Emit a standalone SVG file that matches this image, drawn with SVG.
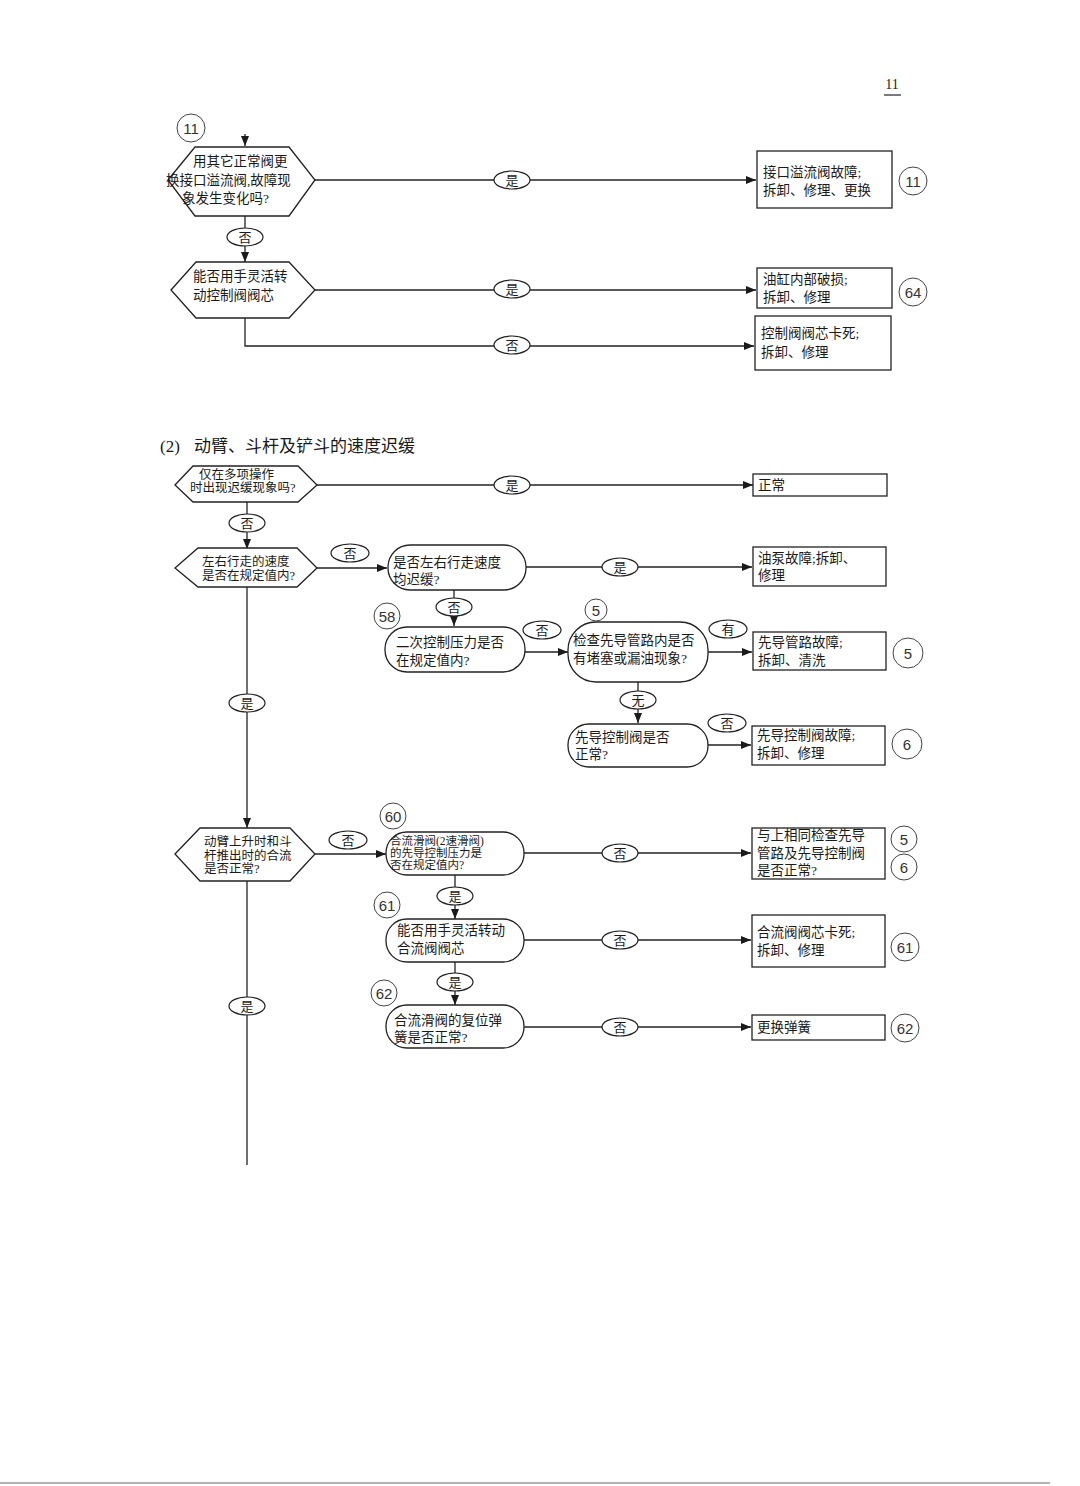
<svg xmlns="http://www.w3.org/2000/svg" width="1080" height="1486" viewBox="0 0 1080 1486">
<style>
.bg{fill:#ffffff}
.shape{fill:#ffffff;stroke:#222;stroke-width:1.3}
.conn{fill:none;stroke:#222;stroke-width:1.3}
.lbl{fill:#ffffff;stroke:#222;stroke-width:1.2}
.t{font-family:"Liberation Serif","Noto Sans CJK SC",serif;font-size:13.5px;fill:#1a1a1a}
.ts{font-family:"Liberation Serif","Noto Sans CJK SC",serif;font-size:12.5px;fill:#1a1a1a}
.tx{font-family:"Liberation Serif","Noto Sans CJK SC",serif;font-size:11.5px;fill:#1a1a1a}
.lt{font-family:"Liberation Serif","Noto Sans CJK SC",serif;font-size:13px;fill:#1a1a1a;text-anchor:middle}
.hc{fill:none;stroke:#444;stroke-width:1}
.ht{font-family:"Liberation Sans",sans-serif;font-size:15px;fill:#333;text-anchor:middle}
.title{font-family:"Liberation Serif","Noto Sans CJK SC",serif;font-size:17px;fill:#1a1a1a}
</style>
<defs>
<marker id="ah" markerWidth="10" markerHeight="8" refX="10" refY="4" orient="auto" markerUnits="userSpaceOnUse">
<path d="M0,0 L10,4 L0,8 z" fill="#1a1a1a"/>
</marker>
</defs>
<rect class="bg" x="0" y="0" width="1080" height="1486"/>

<!-- page number -->
<g id="page-number">
<text x="892" y="89" style="font-family:'Liberation Serif',serif;font-size:14px;fill:#222;text-anchor:middle">11</text>
<line x1="884" y1="95" x2="901" y2="95" stroke="#222" stroke-width="1.2"/>
</g>

<!-- section title -->
<g id="title2">
<text class="title" x="160" y="452">(2)</text>
<text class="title" x="194" y="452">动臂、斗杆及铲斗的速度迟缓</text>
</g>

<!-- connectors -->
<g id="connectors">
<line class="conn" x1="245" y1="134" x2="245" y2="146" marker-end="url(#ah)"/>
<line class="conn" x1="315" y1="180" x2="756" y2="180" marker-end="url(#ah)"/>
<line class="conn" x1="245" y1="216" x2="245" y2="262" marker-end="url(#ah)"/>
<line class="conn" x1="315" y1="290" x2="756" y2="290" marker-end="url(#ah)"/>
<polyline class="conn" points="245,318 245,346 754,346" marker-end="url(#ah)"/>

<line class="conn" x1="317" y1="485" x2="753" y2="485" marker-end="url(#ah)"/>
<line class="conn" x1="247" y1="502" x2="247" y2="549" marker-end="url(#ah)"/>
<line class="conn" x1="317" y1="568" x2="387" y2="568" marker-end="url(#ah)"/>
<line class="conn" x1="526" y1="567" x2="752" y2="567" marker-end="url(#ah)"/>
<line class="conn" x1="454" y1="590" x2="454" y2="626" marker-end="url(#ah)"/>
<line class="conn" x1="525" y1="652" x2="568" y2="652" marker-end="url(#ah)"/>
<line class="conn" x1="708" y1="652" x2="752" y2="652" marker-end="url(#ah)"/>
<line class="conn" x1="638" y1="682" x2="638" y2="723" marker-end="url(#ah)"/>
<line class="conn" x1="708" y1="745" x2="751" y2="745" marker-end="url(#ah)"/>
<line class="conn" x1="247" y1="587" x2="247" y2="828" marker-end="url(#ah)"/>
<line class="conn" x1="315" y1="854" x2="386" y2="854" marker-end="url(#ah)"/>
<line class="conn" x1="524" y1="853" x2="751" y2="853" marker-end="url(#ah)"/>
<line class="conn" x1="455" y1="875" x2="455" y2="919" marker-end="url(#ah)"/>
<line class="conn" x1="524" y1="940" x2="751" y2="940" marker-end="url(#ah)"/>
<line class="conn" x1="455" y1="962" x2="455" y2="1005" marker-end="url(#ah)"/>
<line class="conn" x1="524" y1="1027" x2="751" y2="1027" marker-end="url(#ah)"/>
<line class="conn" x1="247" y1="881" x2="247" y2="1165"/>

<g id="lbl-yes-1"><ellipse class="lbl" cx="512" cy="180" rx="18" ry="9"/><text class="lt" x="512" y="185">是</text></g>
<g id="lbl-no-1"><ellipse class="lbl" cx="245" cy="237" rx="18" ry="9"/><text class="lt" x="245" y="242">否</text></g>
<g id="lbl-yes-2"><ellipse class="lbl" cx="512" cy="289" rx="18" ry="9"/><text class="lt" x="512" y="294">是</text></g>
<g id="lbl-no-2"><ellipse class="lbl" cx="512" cy="345" rx="18" ry="9"/><text class="lt" x="512" y="350">否</text></g>
<g id="lbl-yes-3"><ellipse class="lbl" cx="512" cy="485" rx="18" ry="9"/><text class="lt" x="512" y="490">是</text></g>
<g id="lbl-no-3"><ellipse class="lbl" cx="247" cy="523" rx="18" ry="9"/><text class="lt" x="247" y="528">否</text></g>
<g id="lbl-no-4"><ellipse class="lbl" cx="350" cy="553" rx="19" ry="9"/><text class="lt" x="350" y="558">否</text></g>
<g id="lbl-yes-4"><ellipse class="lbl" cx="620" cy="567" rx="18" ry="9"/><text class="lt" x="620" y="572">是</text></g>
<g id="lbl-no-5"><ellipse class="lbl" cx="454" cy="607" rx="18" ry="9"/><text class="lt" x="454" y="612">否</text></g>
<g id="lbl-no-6"><ellipse class="lbl" cx="542" cy="630" rx="19" ry="9"/><text class="lt" x="542" y="635">否</text></g>
<g id="lbl-you"><ellipse class="lbl" cx="728" cy="629" rx="19" ry="9"/><text class="lt" x="728" y="634">有</text></g>
<g id="lbl-wu"><ellipse class="lbl" cx="638" cy="700" rx="18" ry="9"/><text class="lt" x="638" y="705">无</text></g>
<g id="lbl-no-7"><ellipse class="lbl" cx="727" cy="723" rx="19" ry="9"/><text class="lt" x="727" y="728">否</text></g>
<g id="lbl-yes-5"><ellipse class="lbl" cx="247" cy="703" rx="18" ry="9"/><text class="lt" x="247" y="708">是</text></g>
<g id="lbl-no-8"><ellipse class="lbl" cx="348" cy="840" rx="19" ry="9"/><text class="lt" x="348" y="845">否</text></g>
<g id="lbl-no-9"><ellipse class="lbl" cx="620" cy="853" rx="18" ry="9"/><text class="lt" x="620" y="858">否</text></g>
<g id="lbl-yes-6"><ellipse class="lbl" cx="455" cy="896" rx="18" ry="9"/><text class="lt" x="455" y="901">是</text></g>
<g id="lbl-no-10"><ellipse class="lbl" cx="620" cy="940" rx="18" ry="9"/><text class="lt" x="620" y="945">否</text></g>
<g id="lbl-yes-7"><ellipse class="lbl" cx="455" cy="982" rx="18" ry="9"/><text class="lt" x="455" y="987">是</text></g>
<g id="lbl-no-11"><ellipse class="lbl" cx="620" cy="1027" rx="18" ry="9"/><text class="lt" x="620" y="1032">否</text></g>
<g id="lbl-yes-8"><ellipse class="lbl" cx="247" cy="1006" rx="18" ry="9"/><text class="lt" x="247" y="1011">是</text></g>
</g>

<!-- top section nodes -->
<g id="d-replace-valve">
<polygon class="shape" points="168,180 195,147 289,147 315,180 289,216 195,216"/>
<text class="t" x="193" y="166">用其它正常阀更</text>
<text class="t" x="166" y="185">换接口溢流阀,故障现</text>
<text class="t" x="182" y="203">象发生变化吗?</text>
</g>
<g id="b-relief-fault">
<rect class="shape" x="757" y="151" width="135" height="57"/>
<text class="t" x="763" y="177">接口溢流阀故障;</text>
<text class="t" x="763" y="195">拆卸、修理、更换</text>
</g>
<g id="d-turn-spool">
<polygon class="shape" points="171,290 196,262 289,262 315,290 289,318 196,318"/>
<text class="t" x="193" y="281">能否用手灵活转</text>
<text class="t" x="193" y="300">动控制阀阀芯</text>
</g>
<g id="b-cylinder">
<rect class="shape" x="757" y="268" width="135" height="40"/>
<text class="t" x="763" y="284">油缸内部破损;</text>
<text class="t" x="763" y="302">拆卸、修理</text>
</g>
<g id="b-spool-stuck">
<rect class="shape" x="755" y="316" width="136" height="54"/>
<text class="t" x="761" y="338">控制阀阀芯卡死;</text>
<text class="t" x="761" y="357">拆卸、修理</text>
</g>

<!-- section 2 nodes -->
<g id="d-multi-op">
<polygon class="shape" points="175,485 193,466 298,466 317,485 298,502 193,502"/>
<text class="ts" x="199" y="479">仅在多项操作</text>
<text class="ts" x="190" y="492">时出现迟缓现象吗?</text>
</g>
<g id="b-normal">
<rect class="shape" x="753" y="474" width="134" height="22"/>
<text class="t" x="758" y="490">正常</text>
</g>
<g id="d-travel-speed">
<polygon class="shape" points="175,568 198,548 297,548 317,568 297,587 198,587"/>
<text class="ts" x="202" y="566">左右行走的速度</text>
<text class="ts" x="202" y="580">是否在规定值内?</text>
</g>
<g id="s-both-slow">
<rect class="shape" x="388" y="545" width="138" height="45" rx="22" ry="22"/>
<text class="t" x="393" y="567">是否左右行走速度</text>
<text class="t" x="393" y="584">均迟缓?</text>
</g>
<g id="b-pump">
<rect class="shape" x="753" y="547" width="133" height="39"/>
<text class="t" x="758" y="563">油泵故障;拆卸、</text>
<text class="t" x="758" y="580">修理</text>
</g>
<g id="s-pilot-pressure">
<rect class="shape" x="385" y="627" width="140" height="45" rx="22" ry="22"/>
<text class="t" x="396" y="647">二次控制压力是否</text>
<text class="t" x="396" y="665">在规定值内?</text>
</g>
<g id="s-pilot-line">
<rect class="shape" x="568" y="622" width="140" height="60" rx="28" ry="28"/>
<text class="t" x="573" y="645">检查先导管路内是否</text>
<text class="t" x="573" y="663">有堵塞或漏油现象?</text>
</g>
<g id="b-pilot-line">
<rect class="shape" x="753" y="632" width="133" height="38"/>
<text class="t" x="758" y="647">先导管路故障;</text>
<text class="t" x="758" y="665">拆卸、清洗</text>
</g>
<g id="s-pilot-valve">
<rect class="shape" x="568" y="724" width="140" height="43" rx="21" ry="21"/>
<text class="t" x="575" y="742">先导控制阀是否</text>
<text class="t" x="575" y="759">正常?</text>
</g>
<g id="b-pilot-valve">
<rect class="shape" x="752" y="726" width="133" height="39"/>
<text class="t" x="757" y="740">先导控制阀故障;</text>
<text class="t" x="757" y="758">拆卸、修理</text>
</g>
<g id="d-merge">
<polygon class="shape" points="175,854 200,828 290,828 315,854 290,881 200,881"/>
<text class="ts" x="204" y="846">动臂上升时和斗</text>
<text class="ts" x="204" y="860">杆推出时的合流</text>
<text class="ts" x="204" y="873">是否正常?</text>
</g>
<g id="s-merge-pressure">
<rect class="shape" x="386" y="832" width="138" height="43" rx="21" ry="21"/>
<text class="tx" x="390" y="845">合流滑阀(2速滑阀)</text>
<text class="tx" x="390" y="857">的先导控制压力是</text>
<text class="tx" x="390" y="869">否在规定值内?</text>
</g>
<g id="b-same-check">
<rect class="shape" x="752" y="828" width="133" height="51"/>
<text class="t" x="757" y="840">与上相同检查先导</text>
<text class="t" x="757" y="858">管路及先导控制阀</text>
<text class="t" x="757" y="875">是否正常?</text>
</g>
<g id="s-merge-spool">
<rect class="shape" x="386" y="919" width="138" height="43" rx="21" ry="21"/>
<text class="t" x="397" y="935">能否用手灵活转动</text>
<text class="t" x="397" y="953">合流阀阀芯</text>
</g>
<g id="b-merge-stuck">
<rect class="shape" x="752" y="915" width="133" height="52"/>
<text class="t" x="757" y="937">合流阀阀芯卡死;</text>
<text class="t" x="757" y="955">拆卸、修理</text>
</g>
<g id="s-spring">
<rect class="shape" x="386" y="1005" width="138" height="43" rx="21" ry="21"/>
<text class="t" x="394" y="1025">合流滑阀的复位弹</text>
<text class="t" x="394" y="1042">簧是否正常?</text>
</g>
<g id="b-spring">
<rect class="shape" x="752" y="1015" width="133" height="25"/>
<text class="t" x="757" y="1032">更换弹簧</text>
</g>

<!-- handwritten reference circles -->
<g id="refs">
<g><circle class="hc" cx="191" cy="128" r="14"/><text class="ht" x="191" y="134">11</text></g>
<g><circle class="hc" cx="913" cy="181" r="14"/><text class="ht" x="913" y="187">11</text></g>
<g><circle class="hc" cx="913" cy="292" r="14"/><text class="ht" x="913" y="298">64</text></g>
<g><circle class="hc" cx="387" cy="616" r="13"/><text class="ht" x="387" y="622">58</text></g>
<g><circle class="hc" cx="596" cy="610" r="11"/><text class="ht" x="596" y="616">5</text></g>
<g><circle class="hc" cx="908" cy="653" r="15"/><text class="ht" x="908" y="659">5</text></g>
<g><circle class="hc" cx="907" cy="744" r="15"/><text class="ht" x="907" y="750">6</text></g>
<g><circle class="hc" cx="393" cy="816" r="13"/><text class="ht" x="393" y="822">60</text></g>
<g><circle class="hc" cx="904" cy="839" r="13"/><text class="ht" x="904" y="845">5</text></g>
<g><circle class="hc" cx="904" cy="867" r="13"/><text class="ht" x="904" y="873">6</text></g>
<g><circle class="hc" cx="387" cy="905" r="13"/><text class="ht" x="387" y="911">61</text></g>
<g><circle class="hc" cx="905" cy="947" r="14"/><text class="ht" x="905" y="953">61</text></g>
<g><circle class="hc" cx="384" cy="993" r="13"/><text class="ht" x="384" y="999">62</text></g>
<g><circle class="hc" cx="905" cy="1028" r="14"/><text class="ht" x="905" y="1034">62</text></g>
</g>

<line x1="0" y1="1483" x2="1050" y2="1483" stroke="#999" stroke-width="1.5"/>
</svg>
